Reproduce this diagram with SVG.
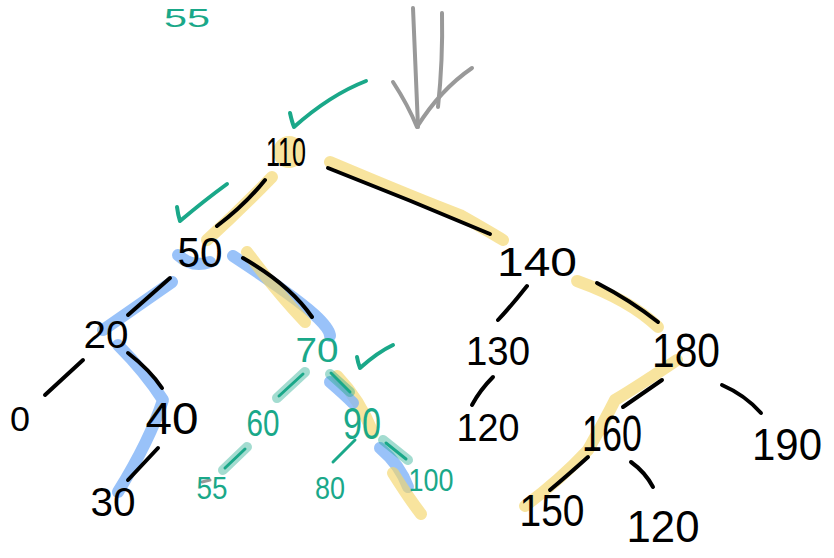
<svg xmlns="http://www.w3.org/2000/svg" width="834" height="558" viewBox="0 0 834 558">
<style>
.t{font-family:"Liberation Sans",Arial,sans-serif;text-anchor:middle;fill:#000}
.g{fill:#1aa889}
.e{fill:none;stroke:#000;stroke-width:4;stroke-linecap:round}
.te{fill:none;stroke:#1aa889;stroke-width:3;stroke-linecap:round}
.tl{fill:none;stroke:#1aa889;stroke-opacity:0.4;stroke-width:10;stroke-linecap:round}
.y{fill:none;stroke:#f5d56a;stroke-opacity:0.65;stroke-width:12;stroke-linecap:round;stroke-linejoin:round}
.b{fill:none;stroke:#7fb3f7;stroke-opacity:0.8;stroke-width:12;stroke-linecap:round;stroke-linejoin:round}
.ck{fill:none;stroke:#1aa889;stroke-width:4;stroke-linecap:round;stroke-linejoin:round}
.ar{fill:none;stroke:#999;stroke-width:4;stroke-linecap:round;stroke-linejoin:round}
</style>
<rect width="834" height="558" fill="#fff"/>
<g id="highlights">
<circle cx="289" cy="152" r="16" fill="#f5d56a" fill-opacity="0.65"/>
<path class="y" d="M272 177 Q240 210 207 240"/>
<path class="y" d="M330 162 Q420 200 460 215 Q490 232 503 240"/>
<path class="b" d="M178 255 Q192 268 210 262"/>
<path class="b" d="M172 282 L103 330"/>
<path class="b" d="M118 345 Q145 372 163 400 Q150 440 118 492"/>
<path class="b" d="M233 256 Q300 300 318 318 Q330 330 330 336"/>
<path class="y" d="M247 252 Q275 290 305 322"/>
<path class="y" d="M337 376 Q360 400 373 433"/>
<path class="b" d="M330 382 Q345 395 353 403"/>
<path class="b" d="M380 448 Q400 465 408 487"/>
<path class="y" d="M393 473 Q410 500 421 514"/>
<path class="y" d="M577 281 Q630 300 658 327"/>
<path class="y" d="M677 360 Q640 385 615 400 Q605 420 588 450 Q560 480 525 506"/>
</g>
<g id="connectors">
<path class="e" d="M265 180 Q245 205 217 226"/>
<path class="e" d="M328 168 Q410 200 490 234"/>
<path class="e" d="M170 278 L128 315"/>
<path class="e" d="M243 258 Q290 285 312 317"/>
<path class="e" d="M128 353 Q150 370 162 388"/>
<path class="e" d="M83 360 L45 395"/>
<path class="e" d="M158 448 L128 480"/>
<path class="tl" d="M305 372 L277 398"/>
<path class="te" d="M303 374 L279 396"/>
<path class="tl" d="M330 374 L350 392"/>
<path class="te" d="M331 373 L350 392"/>
<path class="tl" d="M247 447 L223 470"/>
<path class="te" d="M245 449 L225 468"/>
<path class="te" d="M355 440 L333 462"/>
<path class="tl" d="M383 440 L408 460"/>
<path class="te" d="M386 443 L406 459"/>
<path class="e" d="M527 286 Q512 305 498 320"/>
<path class="e" d="M493 377 Q480 390 472 405"/>
<path class="e" d="M597 283 Q630 300 658 322"/>
<path class="e" d="M662 380 L623 407"/>
<path class="e" d="M722 385 Q745 395 761 413"/>
<path class="e" d="M588 457 Q568 475 550 490"/>
<path class="e" d="M631 462 Q645 472 653 487"/>
<path d="M202 482 L210 480" stroke="#999" stroke-width="3" stroke-linecap="round"/>
</g>
<g id="marks">
<path class="ck" d="M290 113 Q292 122 294 127 Q330 95 366 81"/>
<path class="ck" d="M177 207 Q178 215 180 221 Q205 200 227 184"/>
<path class="ck" d="M357 357 Q358 363 360 368 Q378 352 393 345"/>
<path class="ar" d="M413 8 Q415 60 418 127"/>
<path class="ar" d="M442 13 Q443 60 438 107"/>
<path class="ar" d="M393 82 Q408 105 417 127 Q440 90 472 68"/>
</g>
<g id="n55top"><text class="t g" x="187" y="27" font-size="26" textLength="46" lengthAdjust="spacingAndGlyphs">55</text></g>
<g id="n110"><text class="t" x="286" y="166" font-size="40" textLength="40" lengthAdjust="spacingAndGlyphs">110</text></g>
<g id="n50"><text class="t" x="200" y="267" font-size="42" textLength="45" lengthAdjust="spacingAndGlyphs">50</text></g>
<g id="n140"><text class="t" x="537" y="276" font-size="40" textLength="80" lengthAdjust="spacingAndGlyphs">140</text></g>
<g id="n20"><text class="t" x="106" y="348" font-size="39" textLength="45" lengthAdjust="spacingAndGlyphs">20</text></g>
<g id="n70"><text class="t g" x="317" y="362" font-size="35" textLength="43" lengthAdjust="spacingAndGlyphs">70</text></g>
<g id="n130"><text class="t" x="498" y="365" font-size="41" textLength="64" lengthAdjust="spacingAndGlyphs">130</text></g>
<g id="n180"><text class="t" x="686" y="367" font-size="48" textLength="68" lengthAdjust="spacingAndGlyphs">180</text></g>
<g id="n0"><text class="t" x="20" y="431" font-size="35" textLength="20" lengthAdjust="spacingAndGlyphs">0</text></g>
<g id="n40"><text class="t" x="172" y="434" font-size="45" textLength="53" lengthAdjust="spacingAndGlyphs">40</text></g>
<g id="n60"><text class="t g" x="263" y="436" font-size="37" textLength="33" lengthAdjust="spacingAndGlyphs">60</text></g>
<g id="n90"><text class="t g" x="362" y="439" font-size="44" textLength="38" lengthAdjust="spacingAndGlyphs">90</text></g>
<g id="n120a"><text class="t" x="488" y="441" font-size="38" textLength="63" lengthAdjust="spacingAndGlyphs">120</text></g>
<g id="n160"><text class="t" x="612" y="451" font-size="50" textLength="60" lengthAdjust="spacingAndGlyphs">160</text></g>
<g id="n190"><text class="t" x="787" y="460" font-size="44" textLength="70" lengthAdjust="spacingAndGlyphs">190</text></g>
<g id="n55"><text class="t g" x="212" y="499" font-size="31" textLength="31" lengthAdjust="spacingAndGlyphs">55</text></g>
<g id="n80"><text class="t g" x="330" y="499" font-size="32" textLength="30" lengthAdjust="spacingAndGlyphs">80</text></g>
<g id="n100"><text class="t g" x="431" y="491" font-size="31" textLength="45" lengthAdjust="spacingAndGlyphs">100</text></g>
<g id="n30"><text class="t" x="113" y="516" font-size="40" textLength="45" lengthAdjust="spacingAndGlyphs">30</text></g>
<g id="n150"><text class="t" x="552" y="526" font-size="45" textLength="65" lengthAdjust="spacingAndGlyphs">150</text></g>
<g id="n120b"><text class="t" x="663" y="542" font-size="45" textLength="73" lengthAdjust="spacingAndGlyphs">120</text></g>
</svg>
